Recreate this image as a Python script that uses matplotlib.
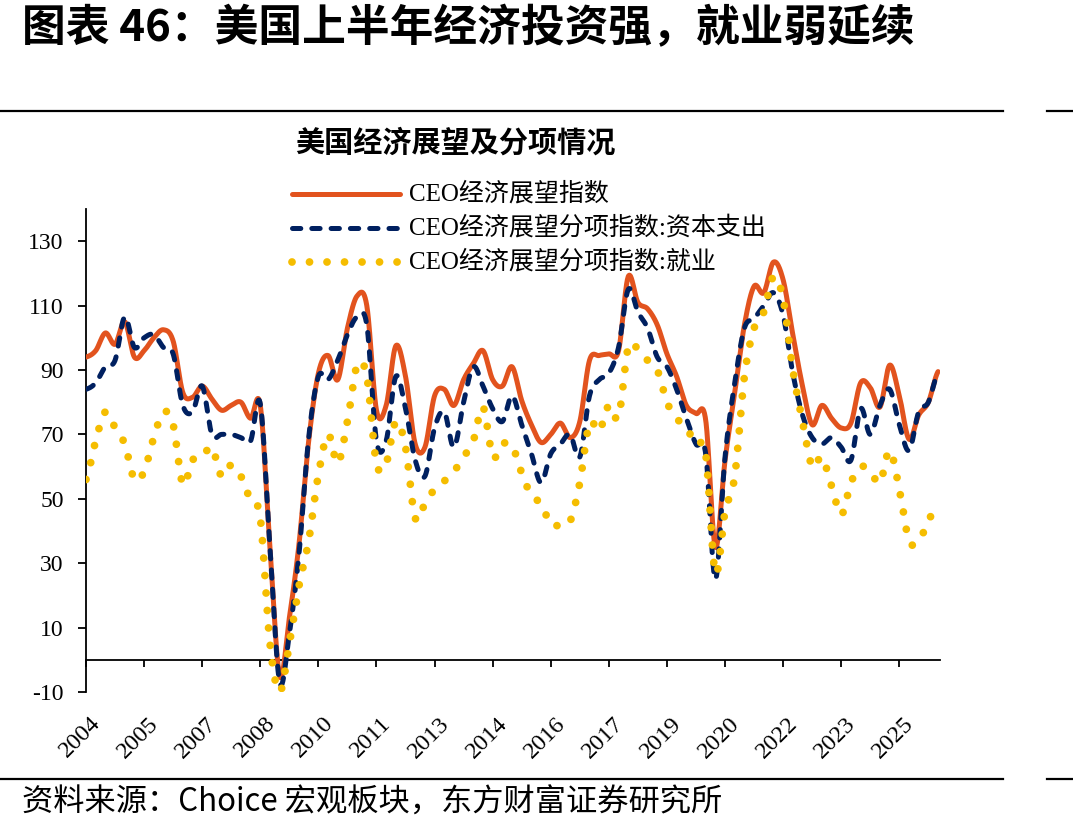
import numpy as np
import matplotlib
matplotlib.use("Agg")
import matplotlib.pyplot as plt
from matplotlib.lines import Line2D
import matplotlib.transforms as mtransforms

# ---------------- data (quarterly, 2004Q1 - 2026Q1) ----------------
quarters = [f"{2004 + i // 4}Q{i % 4 + 1}" for i in range(89)]

ceo_index = [94, 96, 101.5, 98, 105, 94, 96, 100, 102.5, 99,
             83, 81.5, 85, 81, 77.5, 79, 80, 75, 79, 35,
             -5, 13, 36, 68, 89, 94.5, 87, 103, 113, 110,
             77.5, 79, 97.5, 88, 67, 66, 82, 84, 79, 87,
             92, 96, 87, 85, 91, 80.5, 73, 67.5, 70, 73.5,
             69, 74, 93, 94.5, 95, 96, 119, 111, 109, 104,
             95, 88, 79, 76.5, 74.5, 35, 62, 83, 104, 116,
             114, 123.5, 118, 101, 85, 73, 79, 75, 72, 73.5,
             86, 84.5, 78.5, 91.5, 82, 68.5, 76, 80, 89.5]

capex_index = [84, 86, 91, 93, 106.5, 97, 100, 101, 97, 95,
               79, 77, 85, 70, 70, 70, 69, 68, 79.5, 35,
               -7, 8, 33, 69, 88, 87, 93, 101, 106.5, 104,
               68, 68, 88, 78, 62, 57, 72, 77, 66, 80,
               91, 85, 78, 74, 82, 73, 64, 55, 64, 67,
               70, 63, 82, 87, 89, 97, 115, 108, 103, 94,
               91, 84, 75, 67, 64, 25, 63, 86, 103, 106,
               110, 114, 107, 89, 76, 69, 67, 69, 66, 62,
               78, 70, 79, 84, 73, 65, 77, 80, 89.5]

employ_index = [56, 68, 77, 72, 67, 56, 58.5, 69, 77, 73,
                54.5, 62, 63, 66, 57, 60.5, 57, 49.5, 44, 5,
                -10, 5, 23, 37, 57.5, 70, 61, 74, 91.5, 88,
                61, 61, 74, 66, 44, 48.5, 53, 55.5, 58.5, 63,
                68, 78.5, 63, 67, 66.5, 58, 51, 48.5, 42, 42,
                43, 55, 73.5, 71, 79, 75.5, 97, 96.5, 93, 90,
                80, 75, 72, 67, 64, 27, 46, 57, 88, 103,
                108, 119, 112, 90, 74, 60, 63, 54, 45, 55,
                60, 58.5, 55, 65, 53, 37, 37, 43, 49]

series_names = ["CEO经济展望指数", "CEO经济展望分项指数:资本支出", "CEO经济展望分项指数:就业"]
tick_step = 6
tick_labels = ["2004", "2005", "2007", "2008", "2010", "2011", "2013", "2014",
               "2016", "2017", "2019", "2020", "2022", "2023", "2025"]
y_ticks = [-10, 10, 30, 50, 70, 90, 110, 130]

title = "图表 46：美国上半年经济投资强，就业弱延续"
subtitle = "美国经济展望及分项情况"
source = "资料来源：Choice 宏观板块，东方财富证券研究所"

# ---------------- helpers ----------------
def smooth(y, n=24):
    """Catmull-Rom smoothing (like Excel smoothed lines)."""
    y = np.asarray(y, float)
    P = np.concatenate([[y[0]], y, [y[-1]]])
    xs, ys = [], []
    t = np.linspace(0, 1, n, endpoint=False)
    for i in range(len(y) - 1):
        p0, p1, p2, p3 = P[i], P[i + 1], P[i + 2], P[i + 3]
        v = 0.5 * (2 * p1 + (-p0 + p2) * t + (2 * p0 - 5 * p1 + 4 * p2 - p3) * t ** 2
                   + (-p0 + 3 * p1 - 3 * p2 + p3) * t ** 3)
        xs.append(i + t)
        ys.append(v)
    xs.append([len(y) - 1])
    ys.append([y[-1]])
    return np.concatenate(xs), np.concatenate(ys)

W, H = 1073, 834
def fx(px):
    return px / W
def fy(py):
    return 1 - py / H

ORANGE = "#E2531E"
NAVY = "#002060"
GOLD = "#F5BD00"
serif_cjk = ["Liberation Serif", "Noto Sans CJK SC"]

styles = [
    dict(color=ORANGE, lw=3.6, ls="-", solid_capstyle="round"),
    dict(color=NAVY, lw=3.6, ls=(0, (1.66, 2.2)), dash_capstyle="round"),
    dict(color=GOLD, lw=5.6, ls=(0, (0.001, 2.25)), dash_capstyle="round"),
]

fig = plt.figure(figsize=(W / 100, H / 100), dpi=100)
ax = fig.add_axes([fx(86), fy(692), fx(940) - fx(86), fy(209) - fy(692)])

x_idx = np.arange(len(quarters))
for k, (vals, st) in enumerate(zip([ceo_index, capex_index, employ_index], styles)):
    sx, sy = smooth(vals)
    ax.plot(sx, sy, zorder=3 + k, **st)

ax.set_xlim(0, 88.2)
ax.set_ylim(-10, 140)

for s in ["top", "right"]:
    ax.spines[s].set_visible(False)
ax.spines["bottom"].set_position(("data", 0))
ax.spines["bottom"].set_linewidth(1.3)
ax.spines["left"].set_linewidth(1.3)
ax.spines["bottom"].set_zorder(1)

ax.set_yticks(y_ticks)
ax.set_yticklabels([str(v) for v in y_ticks], fontfamily="Liberation Serif", fontsize=17)
ax.tick_params(axis="y", direction="out", length=6, width=1.3, pad=10)

tick_pos = x_idx[::tick_step][:len(tick_labels)]
ax.set_xticks(tick_pos)
ax.set_xticklabels([])
ax.tick_params(axis="x", direction="out", length=5, width=1.3)

lab_tr = mtransforms.offset_copy(ax.transData, fig=fig, x=4, y=0, units="dots")
for p, lab in zip(tick_pos, tick_labels):
    ax.text(p, -16.5, lab, rotation=45, ha="right", va="top", rotation_mode="anchor",
            fontsize=17.5, fontfamily="Liberation Serif", transform=lab_tr, clip_on=False)

# legend (manual, matching layout)
leg_y = [194, 228, 262]
for name, st, yy in zip(series_names, styles, leg_y):
    fig.add_artist(Line2D([fx(292), fx(400)], [fy(yy), fy(yy)], transform=fig.transFigure, **st))
    fig.text(fx(409), fy(yy), name, ha="left", va="center", fontsize=18, family=serif_cjk)

# titles and rules
fig.text(fx(22), fy(28), title, ha="left", va="center", fontsize=31.5, weight="bold",
         family=["Noto Sans CJK SC"])
fig.text(fx(455), fy(143), subtitle, ha="center", va="center", fontsize=21, weight="bold",
         family=["Noto Sans CJK SC"])
for yy in [111, 779]:
    fig.add_artist(Line2D([0, fx(1003)], [fy(yy), fy(yy)], transform=fig.transFigure,
                          color="black", lw=1.6))
    fig.add_artist(Line2D([fx(1047), 1], [fy(yy), fy(yy)], transform=fig.transFigure,
                          color="black", lw=1.6))
fig.text(fx(22), fy(803), source, ha="left", va="center", fontsize=22.5,
         family=["Noto Sans CJK SC", "Liberation Sans"])

fig.savefig("out.png", dpi=100)
